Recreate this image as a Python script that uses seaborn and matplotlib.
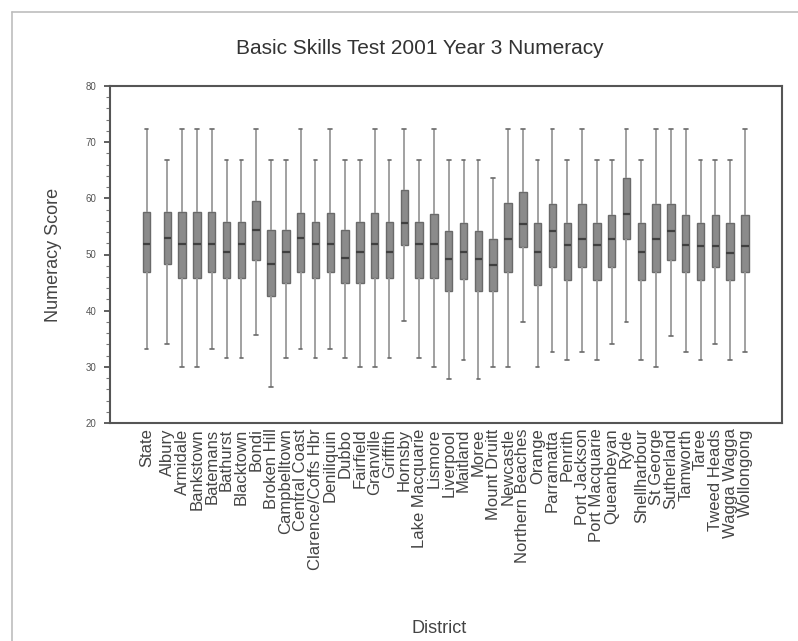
"""
Basic Skills Test 2001, Year 3 numeracy by district.
Box plots redrawn from the scanned summary chart.
"""

import numpy as np
import pandas as pd
import matplotlib.pyplot as plt
from matplotlib.lines import Line2D
from matplotlib.ticker import MultipleLocator
import seaborn as sns


districts = [
    "State", "Albury", "Armidale", "Bankstown", "Batemans", "Bathurst",
    "Blacktown", "Bondi", "Broken Hill", "Campbelltown", "Central Coast",
    "Clarence/Coffs Hbr", "Deniliquin", "Dubbo", "Fairfield", "Granville",
    "Griffith", "Hornsby", "Lake Macquarie", "Lismore", "Liverpool",
    "Maitland", "Moree", "Mount Druitt", "Newcastle", "Northern Beaches",
    "Orange", "Parramatta", "Penrith", "Port Jackson", "Port Macquarie",
    "Queanbeyan", "Ryde", "Shellharbour", "St George", "Sutherland",
    "Tamworth", "Taree", "Tweed Heads", "Wagga Wagga", "Wollongong",
]

whisker_low = [
    33.1, 34.0, 30.0, 30.0, 33.1, 31.6, 31.6, 35.6, 26.4, 31.6, 33.1,
    31.6, 33.1, 31.6, 30.0, 30.0, 31.6, 38.2, 31.6, 30.0, 27.9,
    31.3, 27.9, 30.0, 30.0, 38.0, 30.0, 32.6, 31.3, 32.6, 31.3,
    34.1, 38.0, 31.3, 30.0, 35.5, 32.6, 31.3, 34.1, 31.3, 32.6,
]
q1 = [
    46.9, 48.3, 45.9, 45.9, 46.9, 45.9, 45.9, 49.1, 42.6, 44.9, 46.9,
    45.9, 46.9, 44.9, 44.9, 45.9, 45.9, 51.7, 45.9, 45.9, 43.5,
    45.6, 43.5, 43.5, 46.9, 51.4, 44.5, 47.8, 45.5, 47.8, 45.5,
    47.8, 52.7, 45.5, 46.9, 49.1, 46.9, 45.5, 47.8, 45.5, 46.9,
]
median = [
    51.8, 53.0, 51.8, 51.8, 51.8, 50.5, 51.8, 54.4, 48.3, 50.5, 53.0,
    51.8, 51.8, 49.3, 50.5, 51.8, 50.5, 55.6, 51.8, 51.8, 49.2,
    50.5, 49.2, 48.1, 52.8, 55.5, 50.5, 54.2, 51.7, 52.8, 51.7,
    52.8, 57.2, 50.5, 52.8, 54.2, 51.7, 51.5, 51.5, 50.3, 51.5,
]
q3 = [
    57.6, 57.6, 57.6, 57.6, 57.6, 55.8, 55.8, 59.6, 54.3, 54.3, 57.4,
    55.8, 57.4, 54.3, 55.8, 57.4, 55.8, 61.5, 55.8, 57.2, 54.2,
    55.6, 54.2, 52.8, 59.1, 61.2, 55.6, 59.0, 55.6, 59.0, 55.6,
    57.0, 63.6, 55.6, 59.0, 59.0, 57.0, 55.6, 57.0, 55.6, 57.0,
]
whisker_high = [
    72.3, 66.9, 72.3, 72.3, 72.3, 66.9, 66.9, 72.3, 66.9, 66.9, 72.3,
    66.9, 72.3, 66.9, 66.9, 72.3, 66.9, 72.3, 66.9, 72.3, 66.9,
    66.9, 66.9, 63.7, 72.3, 72.3, 66.9, 72.3, 66.9, 72.3, 66.9,
    66.9, 72.3, 66.9, 72.3, 72.3, 72.3, 66.9, 66.9, 66.9, 72.3,
]

# State box sits a bit apart from the districts
x_pos = np.r_[-1.4, np.arange(len(districts) - 1)]

# five points per district give exactly min / q1 / median / q3 / max
rows = []
for x, name, lo, a, m, b, hi in zip(x_pos, districts, whisker_low, q1,
                                    median, q3, whisker_high):
    for v in (lo, a, m, b, hi):
        rows.append({"pos": x, "District": name, "score": v})
df = pd.DataFrame(rows)

sns.set_style("white")
plt.rcParams["font.family"] = ["Liberation Sans", "DejaVu Sans"]

fig = plt.figure(figsize=(7.98, 6.41), dpi=100)
ax = fig.add_axes([110 / 798, 1 - 423 / 641, 672 / 798, 337 / 641])

sns.boxplot(
    data=df, x="pos", y="score", native_scale=True, whis=(0, 100),
    width=0.5, color="#8b8b8b", saturation=1, linecolor="#6a6a6a",
    linewidth=1.0, capwidths=0.25,
    whiskerprops=dict(color="#9a9a9a", linewidth=1.3),
    capprops=dict(color="#6a6a6a", linewidth=1.2),
    medianprops=dict(color="#404040", linewidth=1.6),
    ax=ax,
)

ax.set_xlim(-3.87, 41.5)
ax.set_ylim(20, 80)
ax.yaxis.set_major_locator(MultipleLocator(10))
ax.yaxis.set_minor_locator(MultipleLocator(2))
ax.tick_params(axis="y", which="major", direction="out", length=4,
               width=1.2, color="#444444", labelsize=7, labelcolor="#555555",
               left=True, pad=6)
ax.tick_params(axis="y", which="minor", direction="out", length=3,
               width=0.8, color="#777777", left=True)
ax.set_xticks(x_pos)
ax.set_xticklabels(districts, rotation=90, fontsize=12, color="#444444")
ax.tick_params(axis="x", length=0, pad=4)

for side in ax.spines.values():
    side.set_visible(True)
    side.set_color("#555555")
    side.set_linewidth(1.5)

ax.set_ylabel("Numeracy Score", fontsize=13, color="#444444")
ax.set_xlabel("District", fontsize=13, color="#444444")
ax.yaxis.set_label_coords(-0.0714, 0.5)
ax.xaxis.set_label_coords(0.49, -0.585)

fig.text(420 / 798, 1 - 48 / 641, "Basic Skills Test 2001 Year 3 Numeracy",
         ha="center", va="center", fontsize=15, color="#333333")

# scanner page edge
fig.add_artist(Line2D([12 / 798, 1], [1 - 12 / 641] * 2,
                      color="#bdbdbd", lw=1.2))
fig.add_artist(Line2D([12 / 798] * 2, [0, 1 - 12 / 641],
                      color="#bdbdbd", lw=1.2))

fig.savefig("out.png", dpi=100)
